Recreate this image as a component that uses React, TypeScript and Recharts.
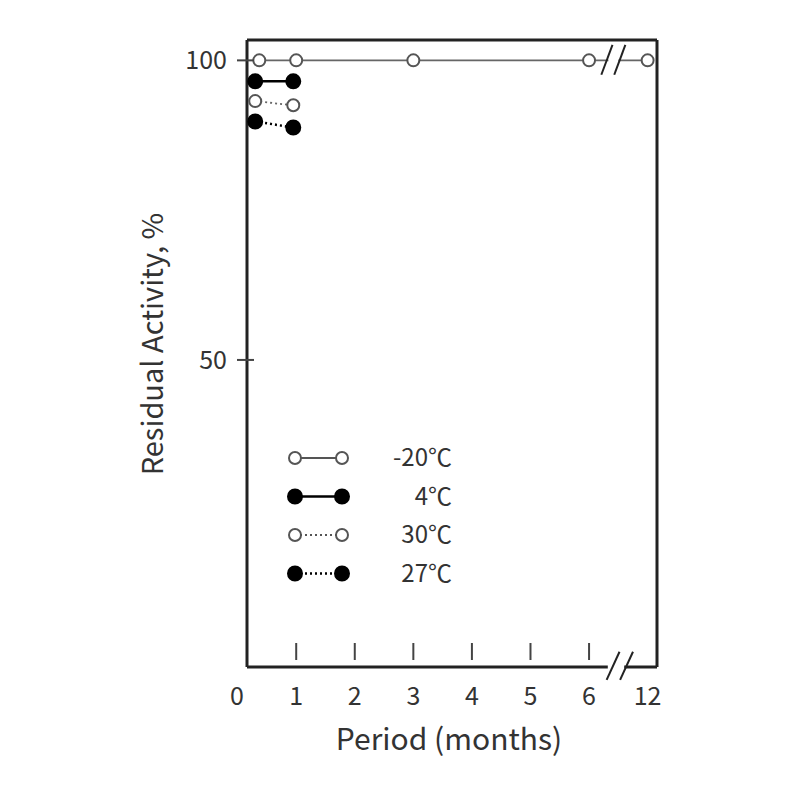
import React from 'react';
import { LineChart, Line, XAxis, YAxis, ReferenceLine, Legend } from 'recharts';

// x positions: 0..6 months are linear, 12 months is drawn at slot 7 (axis break)
const xTickValues = [0.16, 1, 2, 3, 4, 5, 6, 7];
const xTickLabels = ['0', '1', '2', '3', '4', '5', '6', '12'];
const yTickValues = [50, 100];

const minus20X = [0.37, 1, 3, 6, 7];
const minus20Y = [100, 100, 100, 100, 100];
const plus4X = [0.3, 0.95];
const plus4Y = [96.5, 96.5];
const plus30X = [0.3, 0.95];
const plus30Y = [93.2, 92.5];
const plus27X = [0.3, 0.95];
const plus27Y = [89.8, 88.8];

const X_MIN = 0.16;
const X_MAX = 7.16;
const Y_MIN = -1.25;
const Y_MAX = 103.4;

const FONT = '"Noto Sans CJK JP", "Noto Sans", sans-serif';
const TEXT = '#333';
const AXIS = '#222';

const toPoints = (xs: number[], ys: number[]) => xs.map((x, i) => ({ x, y: ys[i] }));

const series = [
  { name: '-20℃', data: toPoints(minus20X, minus20Y), filled: false, dotted: false },
  { name: '4℃', data: toPoints(plus4X, plus4Y), filled: true, dotted: false },
  { name: '30℃', data: toPoints(plus30X, plus30Y), filled: false, dotted: true },
  { name: '27℃', data: toPoints(plus27X, plus27Y), filled: true, dotted: true },
];

function XTick(props: any) {
  const { x, y, payload } = props;
  const i = xTickValues.indexOf(payload.value);
  const label = xTickLabels[i];
  // first label sits at the corner, last one is past the break: no inner tick mark
  const mark = i > 0 && i < xTickValues.length - 1;
  return (
    <g>
      {mark && <line x1={x} x2={x} y1={y - 24} y2={y - 7} stroke="#444" strokeWidth={2} />}
      <text x={i === 0 ? x - 10 : x} y={y + 38} textAnchor="middle" fontSize={25} fill={TEXT} fontFamily={FONT}>
        {label}
      </text>
    </g>
  );
}

function YTick(props: any) {
  const { x, y, payload } = props;
  return (
    <g>
      <line x1={x - 10} x2={x + 7} y1={y} y2={y} stroke="#444" strokeWidth={2} />
      <text x={x - 20} y={y} dy="0.35em" textAnchor="end" fontSize={25} fill={TEXT} fontFamily={FONT}>
        {payload.value}
      </text>
    </g>
  );
}

function LegendBox() {
  return (
    <svg width={180} height={160}>
      {series.map((s, i) => {
        const cy = 20 + i * 38.5;
        const color = s.filled ? '#000' : '#555';
        return (
          <g key={s.name}>
            <line
              x1={12}
              x2={59}
              y1={cy}
              y2={cy}
              stroke={color}
              strokeWidth={s.filled ? 2.5 : 1.8}
              strokeDasharray={s.dotted ? '2 3' : undefined}
            />
            <circle cx={12} cy={cy} r={s.filled ? 7 : 6} fill={s.filled ? '#000' : '#fff'} stroke={color} strokeWidth={2} />
            <circle cx={59} cy={cy} r={s.filled ? 7 : 6} fill={s.filled ? '#000' : '#fff'} stroke={color} strokeWidth={2} />
            <text x={169} y={cy} dy="0.35em" textAnchor="end" fontSize={24} fill={TEXT} fontFamily={FONT}>
              {s.name}
            </text>
          </g>
        );
      })}
    </svg>
  );
}

export default function App() {
  return (
    <div style={{ width: 780, height: 780, background: '#fff' }}>
      <LineChart width={780} height={780} margin={{ top: 32, right: 131, bottom: 21, left: 0 }}>
        <XAxis
          type="number"
          dataKey="x"
          domain={[X_MIN, X_MAX]}
          ticks={xTickValues}
          tick={<XTick />}
          tickSize={0}
          tickMargin={0}
          tickLine={false}
          axisLine={false}
          height={100}
          allowDataOverflow
          label={{
            content: (p: any) => {
              const vb = p.viewBox;
              return (
                <text x={vb.x + vb.width / 2 - 3} y={vb.y + 83} textAnchor="middle" fontSize={30} fill={TEXT} fontFamily={FONT}>
                  Period (months)
                </text>
              );
            },
          }}
        />
        <YAxis
          type="number"
          dataKey="y"
          domain={[Y_MIN, Y_MAX]}
          ticks={yTickValues}
          tick={<YTick />}
          tickSize={0}
          tickMargin={0}
          tickLine={false}
          axisLine={{ stroke: AXIS, strokeWidth: 3 }}
          width={239}
          allowDataOverflow
          label={{
            content: () => (
              <text
                x={142}
                y={336}
                transform="rotate(-90 142 336)"
                textAnchor="middle"
                dominantBaseline="central"
                fontSize={29}
                fill={TEXT}
                fontFamily={FONT}
              >
                Residual Activity, %
              </text>
            ),
          }}
        />
        {/* frame: top, right, and bottom with a break */}
        <ReferenceLine y={Y_MAX} stroke={AXIS} strokeWidth={3} ifOverflow="visible" />
        <ReferenceLine x={X_MAX} stroke={AXIS} strokeWidth={3} ifOverflow="visible" />
        <ReferenceLine segment={[{ x: X_MIN, y: Y_MIN }, { x: 6.32, y: Y_MIN }]} stroke={AXIS} strokeWidth={3} ifOverflow="visible" />
        <ReferenceLine segment={[{ x: 6.6, y: Y_MIN }, { x: X_MAX, y: Y_MIN }]} stroke={AXIS} strokeWidth={3} ifOverflow="visible" />
        <ReferenceLine segment={[{ x: 6.3, y: -3.4 }, { x: 6.52, y: 1.3 }]} stroke={AXIS} strokeWidth={2} ifOverflow="visible" />
        <ReferenceLine segment={[{ x: 6.53, y: -3.4 }, { x: 6.75, y: 1.3 }]} stroke={AXIS} strokeWidth={2} ifOverflow="visible" />
        {series.map((s) => (
          <Line
            key={s.name}
            data={s.data}
            dataKey="y"
            name={s.name}
            stroke={s.filled ? '#000' : '#666'}
            strokeWidth={s.filled ? 2.5 : 1.8}
            strokeDasharray={s.dotted ? '2 3' : undefined}
            dot={{
              r: s.filled ? 7 : 6,
              fill: s.filled ? '#000' : '#fff',
              stroke: s.filled ? '#000' : '#555',
              strokeWidth: 2,
              strokeDasharray: 'none',
            }}
            activeDot={false}
            isAnimationActive={false}
          />
        ))}
        {/* break on the top series */}
        <ReferenceLine segment={[{ x: 6.33, y: 100 }, { x: 6.5, y: 100 }]} stroke="#fff" strokeWidth={5} ifOverflow="visible" />
        <ReferenceLine segment={[{ x: 6.21, y: 97.6 }, { x: 6.4, y: 102.6 }]} stroke={AXIS} strokeWidth={2} ifOverflow="visible" />
        <ReferenceLine segment={[{ x: 6.43, y: 97.6 }, { x: 6.62, y: 102.6 }]} stroke={AXIS} strokeWidth={2} ifOverflow="visible" />
        <Legend
          layout="vertical"
          align="center"
          verticalAlign="middle"
          content={() => <LegendBox />}
          wrapperStyle={{ position: 'absolute', left: 275, top: 430, width: 180, height: 160 }}
        />
      </LineChart>
    </div>
  );
}
